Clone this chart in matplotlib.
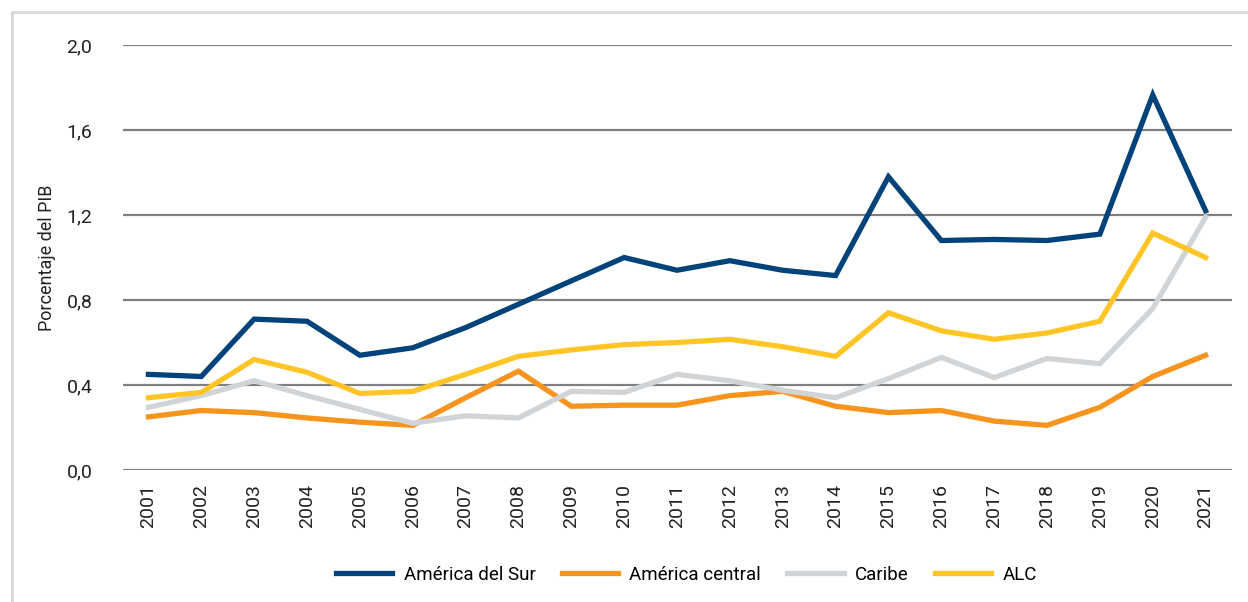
import matplotlib
matplotlib.use('Agg')
import matplotlib.pyplot as plt
from matplotlib.patches import Rectangle
from matplotlib.ticker import FuncFormatter

plt.rcParams['font.family'] = ['Liberation Sans Narrow', 'Roboto', 'DejaVu Sans']

years = list(range(2001, 2022))

america_sur = [0.45, 0.44, 0.71, 0.70, 0.54, 0.575, 0.67, 0.78, 0.89, 1.00, 0.94,
               0.985, 0.94, 0.915, 1.38, 1.08, 1.085, 1.08, 1.11, 1.765, 1.22]
america_central = [0.25, 0.28, 0.27, 0.245, 0.225, 0.21, 0.34, 0.465, 0.30, 0.305, 0.305,
                   0.35, 0.37, 0.30, 0.27, 0.28, 0.23, 0.21, 0.295, 0.44, 0.54]
caribe = [0.295, 0.35, 0.42, 0.35, 0.285, 0.22, 0.255, 0.245, 0.37, 0.365, 0.45,
          0.42, 0.375, 0.34, 0.43, 0.53, 0.435, 0.525, 0.50, 0.76, 1.19]
alc = [0.34, 0.365, 0.52, 0.46, 0.36, 0.37, 0.45, 0.535, 0.565, 0.59, 0.60,
       0.615, 0.58, 0.535, 0.74, 0.655, 0.615, 0.645, 0.70, 1.115, 1.00]

series = [
    ('América del Sur', america_sur, '#00427A'),
    ('América central', america_central, '#F7941E'),
    ('Caribe', caribe, '#D1D4D7'),
    ('ALC', alc, '#FFC527'),
]

fig = plt.figure(figsize=(12.48, 6.02), dpi=100)
ax = fig.add_axes([0.0986, 0.2193, 0.8886, 0.7059])

# light frame around the whole figure
fig.patches.append(Rectangle((12 / 1248, -0.1), 1.2, 1 - 12 / 602 + 0.1,
                             transform=fig.transFigure, fill=False,
                             edgecolor='#D5D8DB', linewidth=2))

for name, vals, col in series:
    ax.plot(years, vals, color=col, linewidth=3.8, label=name,
            solid_joinstyle='miter', zorder=3)

ax.set_xlim(2000.52, 2021.5)
ax.set_ylim(0, 2.0)
ax.set_yticks([0, 0.4, 0.8, 1.2, 1.6, 2.0])
ax.yaxis.set_major_formatter(FuncFormatter(lambda v, p: f'{v:.1f}'.replace('.', ',')))
ax.set_xticks(years)
ax.set_xticklabels([str(y) for y in years], rotation=90)
ax.grid(axis='y', color='#808080', linewidth=1.6, zorder=0)
ax.tick_params(length=0, labelsize=14, colors='#222222')
ax.tick_params(axis='y', pad=22)
ax.tick_params(axis='x', pad=10)
for s in ax.spines.values():
    s.set_visible(False)
ax.set_ylabel('Porcentaje del PIB', fontsize=13, color='#222222', labelpad=8)

ax.legend(loc='center', bbox_to_anchor=(0.508, -0.247), ncol=4, frameon=False,
          fontsize=13.5, handlelength=3.0, columnspacing=1.4, handletextpad=0.6)

fig.savefig('out.png', dpi=100)
